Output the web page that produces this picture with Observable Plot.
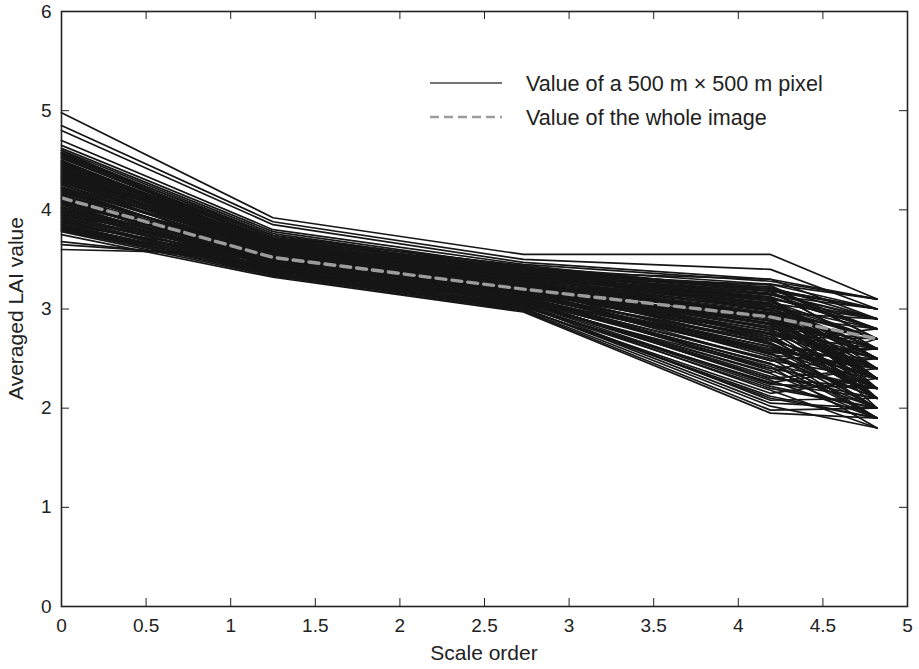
<!DOCTYPE html>
<html>
<head>
<meta charset="utf-8">
<script src="https://cdn.jsdelivr.net/npm/d3@7"></script>
<script src="https://cdn.jsdelivr.net/npm/@observablehq/plot@0.6"></script>
<style>
  html, body { margin: 0; padding: 0; background: #fff; }
  #chart svg { display: block; }
</style>
</head>
<body>
<div id="chart"></div>
<script>
// Scale orders (x positions of the vertices)
const scaleOrders = [0, 1.25, 2.73, 4.19, 4.82];

// Averaged LAI value of individual 500 m x 500 m pixels, one array per pixel
const pixelLAI = [
  [4.98, 3.92, 3.55, 3.55, 3.10],
  [4.85, 3.88, 3.50, 3.40, 3.00],
  [4.80, 3.85, 3.47, 3.30, 2.90],
  [4.70, 3.80, 3.45, 3.28, 3.10],
  [4.65, 3.78, 3.42, 3.20, 2.80],
  [4.62, 3.76, 3.40, 3.18, 3.00],
  [4.60, 3.74, 3.38, 3.22, 2.70],
  [4.58, 3.72, 3.36, 3.15, 2.90],
  [3.60, 3.55, 3.30, 3.00, 2.60],
  [3.65, 3.50, 3.25, 2.95, 2.50],
  [3.68, 3.45, 3.20, 2.85, 2.40],
  [3.75, 3.32, 2.97, 1.95, 1.90],
  [3.78, 3.33, 2.98, 1.98, 2.00],
  [3.80, 3.35, 2.99, 2.02, 1.80],
  [4.55, 3.70, 3.40, 3.20, 3.00],
  [4.52, 3.68, 3.38, 3.15, 2.80],
  [4.50, 3.66, 3.35, 3.10, 2.90],
  [4.48, 3.70, 3.42, 3.25, 3.10],
  [4.45, 3.64, 3.33, 3.05, 2.70],
  [4.43, 3.62, 3.30, 3.00, 2.60],
  [4.40, 3.60, 3.32, 3.12, 2.80],
  [4.38, 3.65, 3.36, 3.08, 2.50],
  [4.35, 3.58, 3.28, 2.95, 2.40],
  [4.33, 3.61, 3.31, 3.02, 2.70],
  [4.30, 3.56, 3.26, 2.90, 2.60],
  [4.28, 3.59, 3.29, 3.06, 2.90],
  [4.25, 3.54, 3.24, 2.85, 2.30],
  [4.23, 3.57, 3.27, 2.98, 2.50],
  [4.20, 3.52, 3.22, 2.80, 2.20],
  [4.18, 3.55, 3.25, 2.93, 2.80],
  [4.15, 3.50, 3.20, 2.75, 2.40],
  [4.13, 3.53, 3.23, 2.88, 2.60],
  [4.10, 3.48, 3.18, 2.70, 2.10],
  [4.08, 3.51, 3.21, 2.82, 2.30],
  [4.05, 3.46, 3.16, 2.65, 2.00],
  [4.03, 3.49, 3.19, 2.78, 2.50],
  [4.00, 3.44, 3.14, 2.60, 2.20],
  [3.98, 3.47, 3.17, 2.72, 2.70],
  [3.95, 3.42, 3.12, 2.55, 2.10],
  [3.93, 3.45, 3.15, 2.68, 2.40],
  [3.90, 3.40, 3.10, 2.50, 1.90],
  [3.88, 3.43, 3.13, 2.62, 2.30],
  [3.85, 3.38, 3.08, 2.45, 2.00],
  [3.83, 3.41, 3.11, 2.58, 2.60],
  [3.82, 3.37, 3.05, 2.40, 2.20],
  [3.80, 3.39, 3.07, 2.35, 1.90],
  [4.57, 3.68, 3.34, 3.05, 2.50],
  [4.54, 3.72, 3.44, 3.18, 2.60],
  [4.46, 3.67, 3.37, 3.14, 3.00],
  [4.42, 3.63, 3.34, 2.92, 2.20],
  [4.36, 3.66, 3.39, 3.10, 2.40],
  [4.32, 3.58, 3.30, 2.88, 2.30],
  [4.27, 3.62, 3.33, 3.03, 2.80],
  [4.22, 3.50, 3.21, 2.78, 2.10],
  [4.17, 3.56, 3.28, 3.00, 2.70],
  [4.12, 3.47, 3.17, 2.62, 2.00],
  [4.07, 3.54, 3.26, 2.96, 2.90],
  [4.02, 3.45, 3.16, 2.58, 2.40],
  [3.97, 3.50, 3.22, 2.86, 2.60],
  [3.92, 3.40, 3.09, 2.42, 1.80],
  [3.87, 3.46, 3.18, 2.76, 2.50],
  [3.84, 3.36, 3.03, 2.25, 2.10],
  [4.60, 3.60, 3.28, 2.90, 2.30],
  [4.50, 3.55, 3.20, 2.70, 2.10],
  [4.40, 3.52, 3.15, 2.55, 2.00],
  [4.30, 3.48, 3.10, 2.45, 1.90],
  [4.20, 3.45, 3.06, 2.30, 2.20],
  [4.10, 3.42, 3.02, 2.20, 2.00],
  [4.00, 3.38, 3.00, 2.10, 1.90],
  [3.90, 3.36, 3.00, 2.15, 2.30],
  [4.45, 3.71, 3.40, 3.16, 2.90],
  [4.35, 3.69, 3.41, 3.20, 3.00],
  [4.25, 3.63, 3.35, 3.12, 2.80],
  [4.15, 3.60, 3.32, 3.08, 2.70],
  [4.05, 3.58, 3.30, 3.04, 2.60],
  [3.95, 3.55, 3.28, 3.00, 2.50],
  [3.85, 3.52, 3.26, 2.96, 2.40],
  [4.56, 3.74, 3.43, 2.98, 2.30],
  [4.47, 3.64, 3.27, 2.72, 2.20],
  [4.37, 3.57, 3.19, 2.52, 2.10],
  [4.26, 3.53, 3.13, 2.38, 2.00],
  [4.16, 3.49, 3.09, 2.28, 1.90],
  [4.06, 3.44, 3.05, 2.18, 1.80],
  [3.96, 3.41, 3.04, 2.08, 2.10],
  [3.86, 3.39, 3.01, 2.05, 2.00],
  [4.58, 3.66, 3.38, 3.30, 3.10],
  [4.44, 3.59, 3.31, 3.25, 3.00],
  [4.34, 3.62, 3.36, 3.22, 2.90],
  [4.53, 3.69, 3.35, 2.84, 2.50],
  [4.41, 3.61, 3.29, 2.74, 2.60],
  [4.31, 3.55, 3.23, 2.64, 2.30],
  [4.21, 3.51, 3.18, 2.54, 2.40],
  [4.11, 3.46, 3.12, 2.44, 2.20],
  [4.01, 3.43, 3.08, 2.32, 2.10],
  [3.91, 3.38, 3.04, 2.22, 2.00],
  [3.81, 3.34, 3.00, 2.12, 1.90],
  [4.49, 3.63, 3.32, 3.10, 2.30],
  [4.39, 3.59, 3.27, 2.96, 2.20],
  [4.29, 3.56, 3.24, 2.84, 2.10],
  [4.19, 3.52, 3.20, 2.70, 2.30],
  [4.09, 3.48, 3.15, 2.56, 2.50],
  [3.99, 3.45, 3.12, 2.48, 2.60],
  [3.89, 3.41, 3.07, 2.36, 2.70],
  [3.79, 3.36, 3.02, 2.26, 2.40],
  [4.52, 3.70, 3.39, 3.12, 2.20],
  [4.42, 3.65, 3.35, 3.06, 2.10],
  [4.32, 3.60, 3.31, 2.99, 2.00],
  [4.22, 3.57, 3.27, 2.92, 2.30],
  [4.12, 3.53, 3.22, 2.82, 2.40],
  [4.02, 3.49, 3.19, 2.74, 2.10],
  [3.92, 3.46, 3.15, 2.66, 2.20],
  [3.82, 3.42, 3.11, 2.56, 1.90],
  [4.48, 3.66, 3.30, 2.80, 2.70],
  [4.38, 3.62, 3.25, 2.68, 2.80],
  [4.28, 3.58, 3.21, 2.58, 2.60],
  [4.18, 3.54, 3.17, 2.48, 2.30],
  [4.08, 3.50, 3.13, 2.40, 2.50],
  [3.98, 3.46, 3.09, 2.30, 2.40],
  [3.88, 3.42, 3.06, 2.24, 2.20],
  [4.43, 3.68, 3.37, 3.24, 2.70],
  [4.33, 3.64, 3.34, 3.18, 2.60],
  [4.23, 3.60, 3.30, 3.10, 2.50],
  [4.13, 3.56, 3.26, 3.02, 2.30],
  [4.03, 3.52, 3.23, 2.94, 2.20],
  [3.94, 3.48, 3.20, 2.88, 2.10],
  [4.47, 3.67, 3.33, 2.66, 2.00]
];

// Averaged LAI value of the whole image
const wholeImageLAI = [4.12, 3.52, 3.20, 2.92, 2.70];

// Tick values
const xTicks = [0, 0.5, 1, 1.5, 2, 2.5, 3, 3.5, 4, 4.5, 5];
const yTicks = [0, 1, 2, 3, 4, 5, 6];

const xLabel = "Scale order";
const yLabel = "Averaged LAI value";
const legendLabels = ["Value of a 500 m \u00d7 500 m pixel", "Value of the whole image"];

// Build tables for the library
const pixelRows = pixelLAI.flatMap((vals, i) =>
  vals.map((v, j) => ({x: scaleOrders[j], y: v, id: i})));
const meanRows = wholeImageLAI.map((v, j) => ({x: scaleOrders[j], y: v}));

const W = 919, H = 669;
const mT = 11, mR = 12, mB = 63, mL = 61;
const innerW = W - mL - mR, innerH = H - mT - mB;
const tickLen = 8;
const font = "'Liberation Sans', Arial, Helvetica, sans-serif";

const plot = Plot.plot({
  width: W,
  height: H,
  marginTop: mT,
  marginRight: mR,
  marginBottom: mB,
  marginLeft: mL,
  style: {fontFamily: font, fontSize: "19px", color: "#222", background: "#fff"},
  x: {domain: [0, 5]},
  y: {domain: [0, 6]},
  marks: [
    Plot.line(pixelRows, {x: "x", y: "y", z: "id", stroke: "#161616", strokeWidth: 1.7}),
    Plot.line(meanRows, {x: "x", y: "y", stroke: "#9c9c9c", strokeWidth: 3.4, strokeDasharray: "10,6"}),
    // inward ticks on all four sides
    Plot.tickX(xTicks, {x: d => d, stroke: "#222", strokeWidth: 1, insetTop: innerH - tickLen}),
    Plot.tickX(xTicks, {x: d => d, stroke: "#222", strokeWidth: 1, insetBottom: innerH - tickLen}),
    Plot.tickY(yTicks, {y: d => d, stroke: "#222", strokeWidth: 1, insetRight: innerW - tickLen}),
    Plot.tickY(yTicks, {y: d => d, stroke: "#222", strokeWidth: 1, insetLeft: innerW - tickLen}),
    Plot.axisX({ticks: xTicks, tickSize: 0, tickPadding: 12, label: null, fontSize: 19,
      tickFormat: d => String(d)}),
    Plot.axisY({ticks: yTicks, tickSize: 0, tickPadding: 10, label: null, fontSize: 19,
      tickFormat: d => String(d)}),
    Plot.frame({stroke: "#222", strokeWidth: 1.6})
  ]
});

// Axis titles and legend
const svg = d3.select(plot);
const ann = svg.append("g").attr("font-family", font).attr("font-size", 21).attr("fill", "#222");
ann.append("text").attr("x", mL + innerW / 2).attr("y", 660)
  .attr("text-anchor", "middle").text(xLabel);
ann.append("text").attr("transform", `translate(23,${mT + innerH / 2}) rotate(-90)`)
  .attr("text-anchor", "middle").text(yLabel);

const lg = svg.append("g").attr("font-family", font).attr("font-size", 21.6).attr("fill", "#222");
lg.append("line").attr("x1", 430).attr("x2", 502).attr("y1", 83).attr("y2", 83)
  .attr("stroke", "#444").attr("stroke-width", 1.6);
lg.append("text").attr("x", 526).attr("y", 83).attr("dy", "0.36em")
  .attr("text-anchor", "start").text(legendLabels[0]);
lg.append("line").attr("x1", 430).attr("x2", 502).attr("y1", 117).attr("y2", 117)
  .attr("stroke", "#9c9c9c").attr("stroke-width", 2.6).attr("stroke-dasharray", "9,5");
lg.append("text").attr("x", 526).attr("y", 117).attr("dy", "0.36em")
  .attr("text-anchor", "start").text(legendLabels[1]);

document.getElementById("chart").appendChild(plot);
</script>
</body>
</html>
